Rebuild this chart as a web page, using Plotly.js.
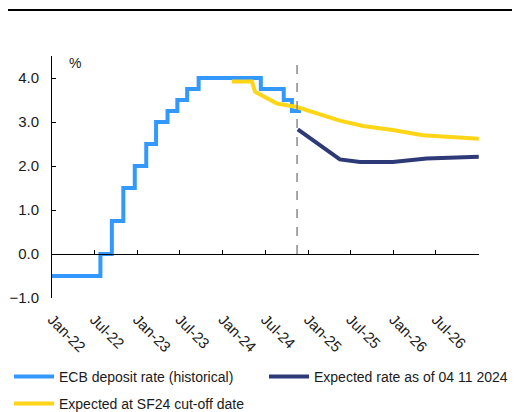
<!DOCTYPE html>
<html>
<head>
<meta charset="utf-8">
<script src="https://cdn.plot.ly/plotly-3.0.1.min.js"></script>
<style>html,body{margin:0;padding:0;background:#fff;}#chart{width:521px;height:412px;}</style>
</head>
<body>
<div id="chart"></div>
<script>
// Historical ECB deposit facility rate (step changes)
const histDates = ['2022-01-01','2022-07-27','2022-09-14','2022-11-02','2022-12-21','2023-02-08','2023-03-22','2023-05-10','2023-06-21','2023-08-02','2023-09-20','2024-06-12','2024-09-18','2024-10-23','2024-12-01'];
const histRate  = [-0.5, 0.0, 0.75, 1.5, 2.0, 2.5, 3.0, 3.25, 3.5, 3.75, 4.0, 3.75, 3.5, 3.25, 3.25];

// Expected rate as of 04 11 2024
const novDates = ['2024-11-17','2025-05-16','2025-08-10','2025-12-28','2026-05-22','2026-11-23','2026-12-31'];
const novRate  = [2.83, 2.15, 2.09, 2.09, 2.17, 2.20, 2.21];

// Expected at SF24 cut-off date
const sfDates = ['2024-02-09','2024-05-05','2024-05-18','2024-08-20','2024-11-13','2025-05-16','2025-08-23','2025-12-28','2026-05-06','2026-11-23','2026-12-31'];
const sfRate  = [3.92, 3.92, 3.69, 3.42, 3.34, 3.03, 2.91, 2.82, 2.70, 2.63, 2.62];

const tickVals = ['2022-01-01','2022-07-01','2023-01-01','2023-07-01','2024-01-01','2024-07-01','2025-01-01','2025-07-01','2026-01-01','2026-07-01'];
const tickText = ['Jan-22','Jul-22','Jan-23','Jul-23','Jan-24','Jul-24','Jan-25','Jul-25','Jan-26','Jul-26'];
const allTicks = tickVals.concat(['2027-01-01']);
const cutoffDate = '2024-11-14';

const FONT = 'Liberation Sans, Arial, sans-serif';
const xRange = ['2022-01-01','2027-01-01'];
const W = 521, H = 412;

const traces = [
  {x: histDates, y: histRate, type: 'scatter', mode: 'lines', line: {shape: 'hv', color: '#3399FF', width: 4},
   name: 'ECB deposit rate (historical)', legend: 'legend'},
  {x: novDates, y: novRate, type: 'scatter', mode: 'lines', line: {color: '#2E3A78', width: 4},
   name: 'Expected rate as of 04 11 2024', legend: 'legend3'},
  {x: sfDates, y: sfRate, type: 'scatter', mode: 'lines', line: {color: '#FFD617', width: 4},
   name: 'Expected at SF24 cut-off date', legend: 'legend2'},
  {x: xRange, y: [null, null], xaxis: 'x2', type: 'scatter', mode: 'lines', showlegend: false, hoverinfo: 'skip'}
];

function leg(px, py) {
  return {orientation: 'h', xref: 'container', yref: 'container', x: px / W, y: 1 - py / H,
          yanchor: 'middle', xanchor: 'left', itemwidth: 40,
          font: {size: 14, color: '#1a1a1a'}, bgcolor: 'rgba(0,0,0,0)'};
}

const layout = {
  width: W, height: H,
  margin: {l: 52, r: 42, t: 56, b: 114, pad: 0},
  paper_bgcolor: '#fff', plot_bgcolor: '#fff',
  font: {family: FONT, size: 14, color: '#1a1a1a'},
  xaxis: {
    type: 'date', range: xRange, tickvals: tickVals, ticktext: tickText,
    tickangle: 45, ticks: '', showline: false, showgrid: false, zeroline: false,
    ticklabelstandoff: 9, tickfont: {size: 15, color: '#1a1a1a'}
  },
  xaxis2: {
    type: 'date', range: xRange, overlaying: 'x', anchor: 'free', position: 1/5.5,
    tickvals: allTicks, showticklabels: false, ticks: 'inside', ticklen: 4, tickcolor: '#000',
    showline: true, linecolor: '#000', linewidth: 1, showgrid: false, zeroline: false
  },
  yaxis: {
    range: [-1, 4.5], tickvals: [-1, 0, 1, 2, 3, 4], tickformat: '.1f',
    ticks: 'inside', ticklen: 4, tickcolor: '#000', showline: true, linecolor: '#000', linewidth: 1,
    showgrid: false, zeroline: false, ticklabelstandoff: 9, tickfont: {size: 15, color: '#1a1a1a'}
  },
  showlegend: true,
  legend: leg(9, 377),
  legend3: leg(264, 377),
  legend2: leg(9, 404),
  shapes: [
    {type: 'line', xref: 'x', yref: 'y', x0: cutoffDate, x1: cutoffDate, y0: 0, y1: 4.45,
     line: {color: '#8a8a8a', width: 1.5, dash: 'dash'}},
    {type: 'line', xref: 'paper', yref: 'paper', x0: (8-52)/427, x1: (512-52)/427, y0: 1 + 46/242, y1: 1 + 46/242,
     line: {color: '#000', width: 2}}
  ],
  annotations: [
    {text: '%', xref: 'paper', yref: 'paper', x: (75-52)/427, y: 1 - (63-56)/242, showarrow: false,
     xanchor: 'center', yanchor: 'middle', font: {size: 14, color: '#1a1a1a'}}
  ]
};

Plotly.newPlot('chart', traces, layout, {displayModeBar: false, staticPlot: true});
</script>
</body>
</html>
